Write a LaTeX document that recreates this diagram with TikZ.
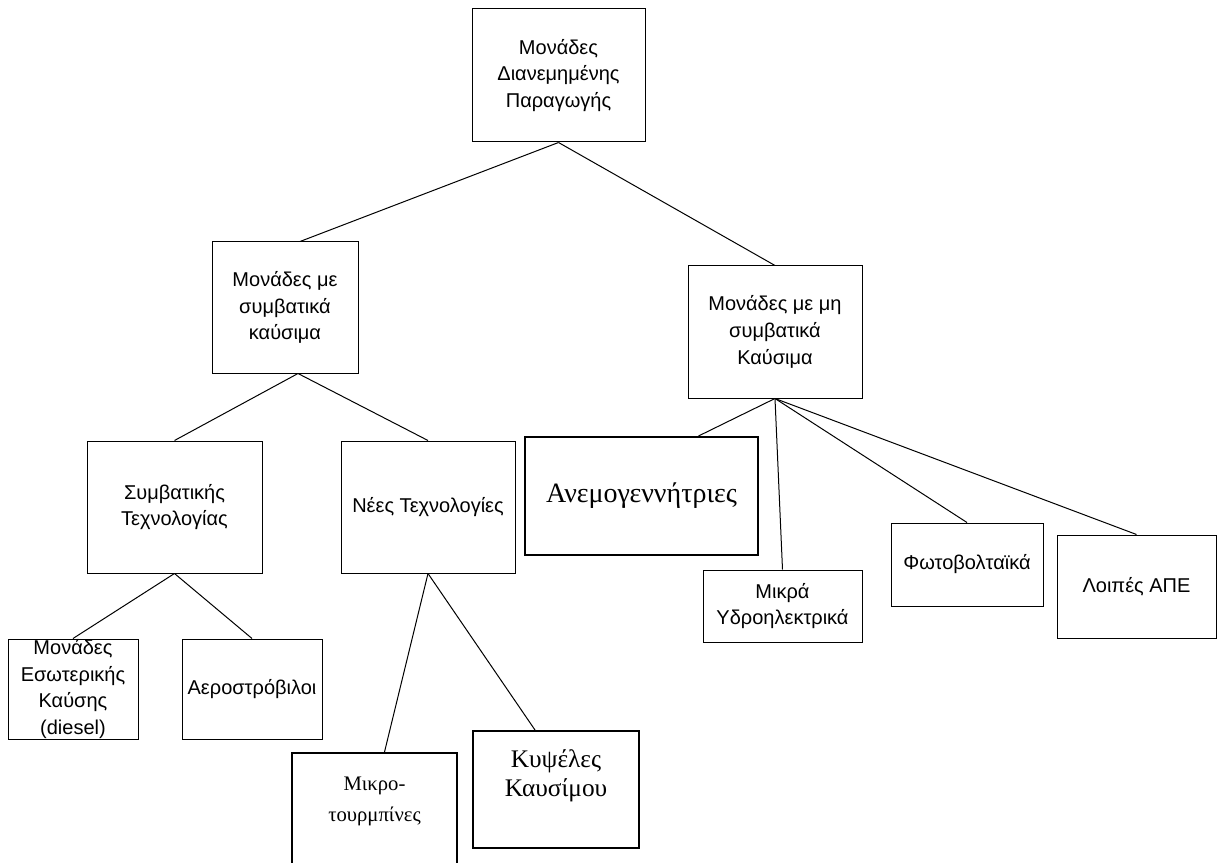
\documentclass[tikz,border=0pt]{standalone}
\usepackage{fontspec}
\setmainfont{Liberation Serif}
\setsansfont{Liberation Sans}
\usetikzlibrary{calc}
\tikzset{
  unit/.style={rectangle, draw=black, line width=0.75pt, align=center,
    inner sep=0pt, font=\sffamily\fontsize{15}{20}\selectfont},
  thickunit/.style={rectangle, draw=black, line width=1.5pt, align=center,
    inner sep=0pt, font=\rmfamily},
  link/.style={line width=0.75pt, color=black}
}

\begin{document}
\begin{tikzpicture}[x=0.75pt, y=-0.75pt]
  \useasboundingbox (0,0) rectangle (1218,863);

  % Top level
  \node[unit, minimum width=129.75pt, minimum height=99.75pt] (dg) at (558.5,75.5)
    {Μονάδες\\Διανεμημένης\\Παραγωγής};

  % Second level
  \node[unit, minimum width=109.5pt, minimum height=98.25pt] (conv) at (285,307.5)
    {Μονάδες με\\συμβατικά\\καύσιμα};
  \node[unit, minimum width=130.5pt, minimum height=99pt] (nonconv) at (775,332)
    {Μονάδες με μη\\συμβατικά\\Καύσιμα};

  % Conventional fuels
  \node[unit, minimum width=131.25pt, minimum height=99pt] (classic) at (174.5,507)
    {Συμβατικής\\Τεχνολογίας};
  \node[unit, minimum width=130.5pt, minimum height=99pt] (newtech) at (428,507)
    {Νέες Τεχνολογίες};
  \node[unit, minimum width=97.5pt, minimum height=75pt] (diesel) at (73,689)
    {Μονάδες\\Εσωτερικής\\Καύσης\\(diesel)};
  \node[unit, minimum width=105pt, minimum height=75pt] (turbine) at (252,689)
    {Αεροστρόβιλοι};
  \node[thickunit] (micro) at (374.5,819)
    {\parbox[c][99pt][t]{123.75pt}{\centering\fontsize{15.5}{23}\selectfont
      \rule{0pt}{28pt}Μικρο-\\τουρμπίνες}};
  \node[thickunit] (fuelcell) at (556,789.5)
    {\parbox[c][87.75pt][t]{124.5pt}{\centering\fontsize{19}{21.5}\selectfont
      \rule{0pt}{27.5pt}Κυψέλες\\Καυσίμου}};

  % Non-conventional fuels
  \node[thickunit, minimum width=174.75pt, minimum height=88.5pt,
    font=\rmfamily\fontsize{21}{25}\selectfont] (wind) at (641.5,496)
    {Ανεμογεννήτριες};
  \node[unit, minimum width=119.25pt, minimum height=54pt] (hydro) at (782.5,606)
    {Μικρά\\Υδροηλεκτρικά};
  \node[unit, minimum width=114pt, minimum height=62.25pt] (pv) at (967,564.5)
    {Φωτοβολταϊκά};
  \node[unit, minimum width=119.25pt, minimum height=77.25pt] (res) at (1136.5,586.5)
    {Λοιπές ΑΠΕ};

  % Connectors
  \draw[link] (dg.south) -- ($(conv.north)+(15,0)$);
  \draw[link] (dg.south) -- (nonconv.north);
  \draw[link] ($(conv.south)+(13,0)$) -- (classic.north);
  \draw[link] ($(conv.south)+(13,0)$) -- (newtech.north);
  \draw[link] (classic.south) -- (diesel.north);
  \draw[link] (classic.south) -- (turbine.north);
  \draw[link] (newtech.south) -- ($(micro.north)+(10,0)$);
  \draw[link] (newtech.south) -- ($(fuelcell.north)+(-21,0)$);
  \draw[link] (nonconv.south) -- ($(wind.north)+(57,0)$);
  \draw[link] (nonconv.south) -- (hydro.north);
  \draw[link] (nonconv.south) -- (pv.north);
  \draw[link] (nonconv.south) -- (res.north);
\end{tikzpicture}
\end{document}
